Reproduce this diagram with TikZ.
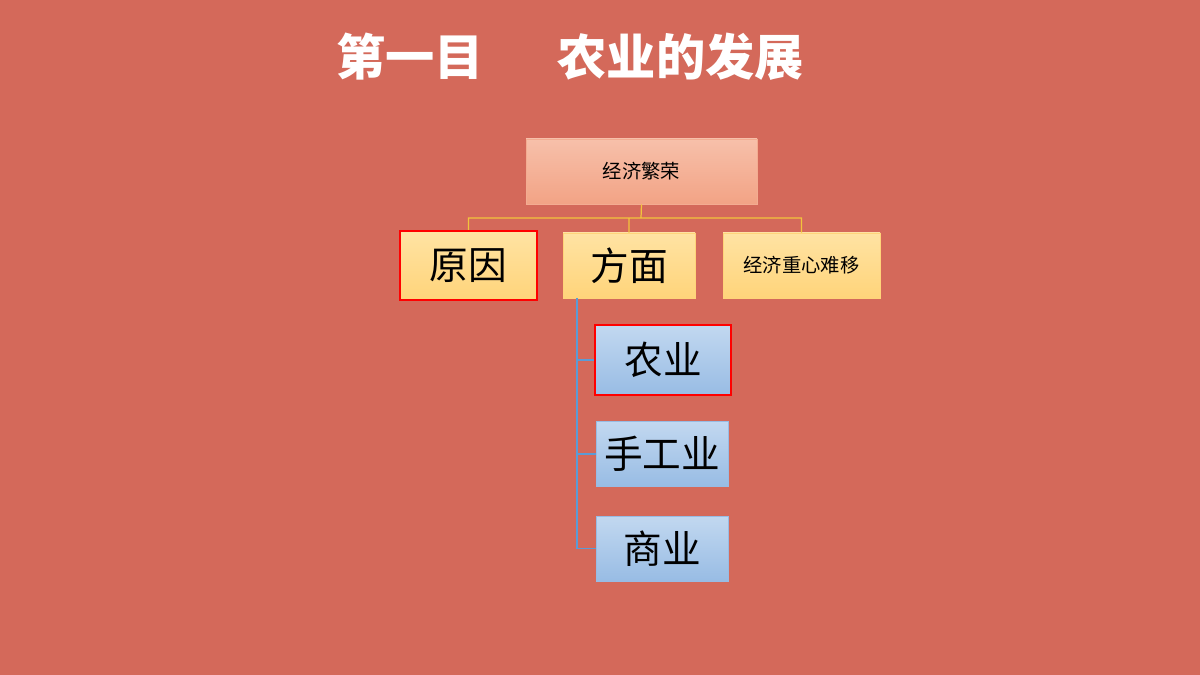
\documentclass[tikz,border=0pt]{standalone}
\usepackage{fontspec}
\newfontfamily\cjk{Noto Sans CJK SC}
\definecolor{bg}{HTML}{D4695A}
\definecolor{peachT}{HTML}{F7C0AA}
\definecolor{peachB}{HTML}{F2A385}
\definecolor{yelT}{HTML}{FFE3A3}
\definecolor{yelB}{HTML}{FFD47A}
\definecolor{bluT}{HTML}{C2D8F0}
\definecolor{bluB}{HTML}{98BCE4}
\definecolor{yline}{HTML}{F2C43C}
\definecolor{bline}{HTML}{5B9BD5}
\tikzset{
 box/.style={minimum width=#1*0.02cm, inner sep=0pt, font=\cjk, text=black},
 peach/.style={top color=peachT,bottom color=peachB,draw=peachB!90!white, minimum height=65*0.02cm},
 yel/.style={top color=yelT,bottom color=yelB,draw=yelB, minimum height=65*0.02cm},
 blu/.style={top color=bluT,bottom color=bluB,draw=bluB, minimum height=65*0.02cm},
 hl/.style={draw=red, line width=1.3pt},
 big/.style={font=\cjk\fontsize{22}{26}\selectfont},
 small/.style={font=\cjk\fontsize{11}{13}\selectfont},
}
\begin{document}
\begin{tikzpicture}[x=0.02cm,y=-0.02cm]
\fill[bg] (0,0) rectangle (1200,675);
\useasboundingbox (0,0) rectangle (1200,675);
\node[font=\cjk\bfseries\fontsize{28}{32}\selectfont, text=white] (title) at (570,57) {第一目\hspace{1.5em}农业的发展};
\node[box=231,peach,small] (top) at (641.5,171.5) {经济繁荣};
\node[box=137,yel,hl,minimum height=69*0.02cm,big] (yy) at (468.5,265.5) {原因};
\node[box=132,yel,big] (fm) at (629,265.5) {方面};
\node[box=157,yel,small] (jj) at (801.5,265.5) {经济重心难移};
\node[box=136,blu,hl,minimum height=70*0.02cm,big] (ny) at (663,360) {农业};
\node[box=132,blu,big] (sg) at (662,454) {手工业};
\node[box=132,blu,big] (sy) at (662,548.5) {商业};
\coordinate (j) at (641,218);
\draw[yline,line width=0.7pt] (top.south) -- (j) (yy.north) |- (j) (fm.north) |- (j) (jj.north) |- (j);
\coordinate (b) at (577,298);
\draw[bline,line width=0.8pt] (b) |- (ny.west) (b) |- (sg.west) (b) |- (sy.west);
\end{tikzpicture}
\end{document}
